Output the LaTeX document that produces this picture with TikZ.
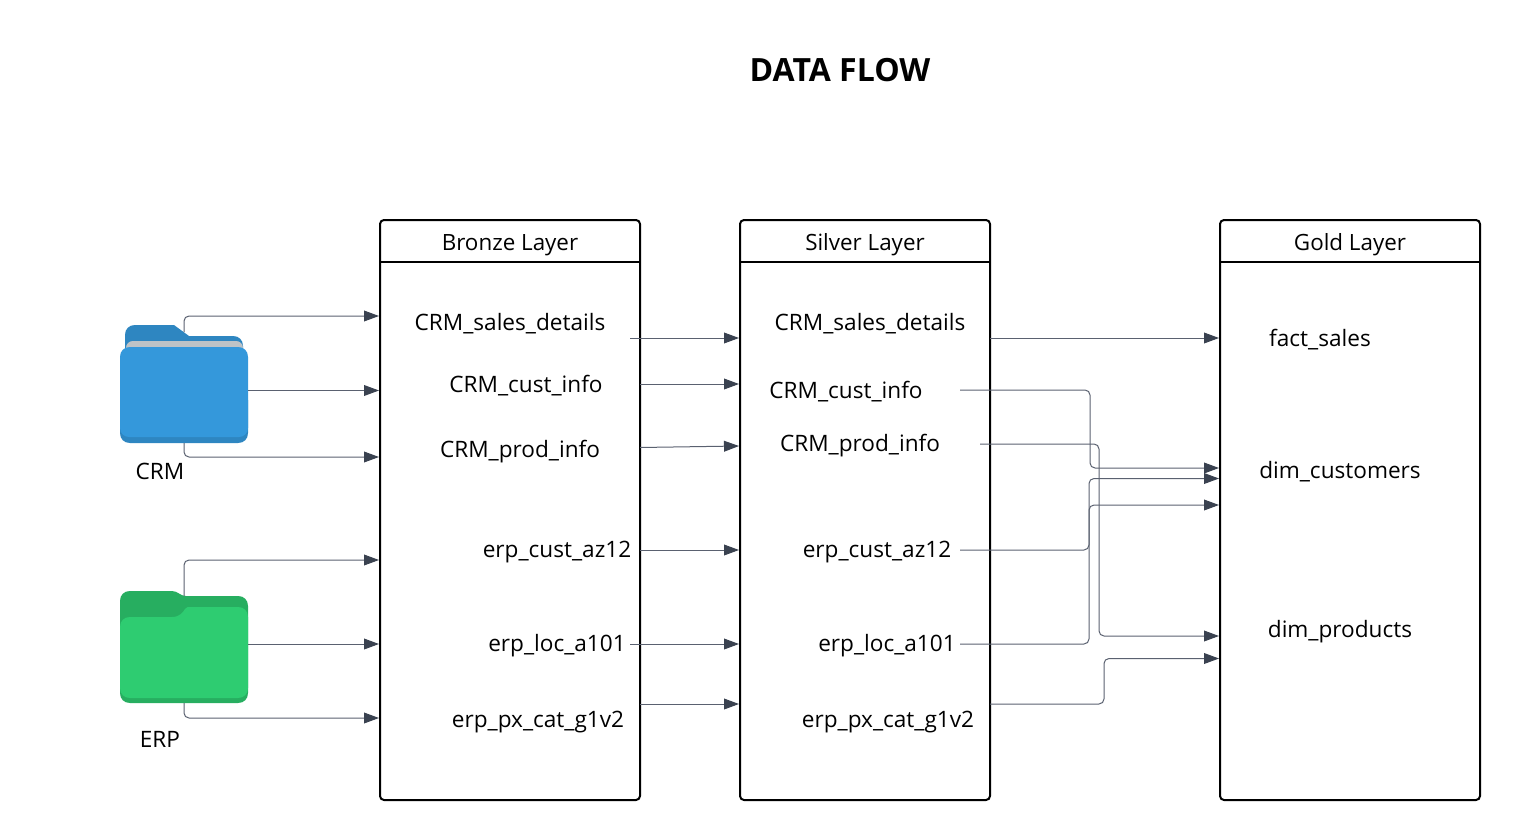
\documentclass[tikz,border=0pt]{standalone}
\usepackage{fontspec}
\setmainfont{Open Sans}
\usetikzlibrary{arrows.meta}
\definecolor{flowline}{HTML}{5A6170}
\definecolor{flowtip}{HTML}{3A4250}
\definecolor{crmback}{HTML}{2E86C1}
\definecolor{crmfront}{HTML}{3498DB}
\definecolor{crmpaper}{HTML}{BDC3C7}
\definecolor{erpback}{HTML}{27AE60}
\definecolor{erpfront}{HTML}{2ECC71}
\tikzset{
    layerbox/.style={draw=black, line width=1pt, rounded corners=2pt, minimum height=290pt, inner sep=0pt, outer sep=0pt},
    layertitle/.style={anchor=north, minimum height=21pt, inner sep=0pt, outer sep=0pt, text depth=0pt, yshift=-0.6pt, font=\fontsize{11.2}{13}\selectfont},
    tablename/.style={inner sep=0pt, yshift=-0.8pt, font=\fontsize{11.3}{13}\selectfont},
    flow/.style={draw=flowline, line width=0.5pt, rounded corners=2.5pt, -{Triangle[length=7.5pt,width=5.4pt,color=flowtip]}},
}

\begin{document}
\begin{tikzpicture}[x=0.5pt, y=-0.5pt]
        \useasboundingbox (0,0) rectangle (1520,840);

        % Titulo
        \node[inner sep=0pt, font=\fontsize{16}{18}\selectfont\bfseries] (title) at (840,70) {DATA FLOW};

        % Capas
        \node[layerbox, minimum width=130pt] (bronze) at (510,510) {};
        \node[layerbox, minimum width=125pt] (silver) at (865,510) {};
        \node[layerbox, minimum width=130pt] (gold) at (1350,510) {};
        \foreach \layer/\name in {bronze/Bronze Layer, silver/Silver Layer, gold/Gold Layer} {
            \node[layertitle] (\layer title) at (\layer.north) {\name};
            \draw[line width=1pt] (\layer.west |- 0,262) -- (\layer.east |- 0,262);
        }

        % Tablas
        \node[tablename] (bsales) at (510,322) {CRM\_sales\_details};
        \node[tablename] (bcust) at (526,384) {CRM\_cust\_info};
        \node[tablename] (bprod) at (520,450) {CRM\_prod\_info};
        \node[tablename] (baz) at (557,550) {erp\_cust\_az12};
        \node[tablename] (bloc) at (557,644) {erp\_loc\_a101};
        \node[tablename] (bcat) at (538,720) {erp\_px\_cat\_g1v2};
        \node[tablename] (ssales) at (870,322) {CRM\_sales\_details};
        \node[tablename] (scust) at (846,390) {CRM\_cust\_info};
        \node[tablename] (sprod) at (860,444) {CRM\_prod\_info};
        \node[tablename] (saz) at (877,550) {erp\_cust\_az12};
        \node[tablename] (sloc) at (887,644) {erp\_loc\_a101};
        \node[tablename] (scat) at (888,720) {erp\_px\_cat\_g1v2};
        \node[tablename] (gfact) at (1320,338) {fact\_sales};
        \node[tablename] (gcust) at (1340,470) {dim\_customers};
        \node[tablename] (gprod) at (1340,630) {dim\_products};

        % Carpeta CRM
        \fill[crmback] (125,352) -- (125,335) .. controls (125,329) and (129,325) .. (135,325) -- (174,325) -- (189,336) -- (233,336) .. controls (239,336) and (243,340) .. (243,346) -- (243,352) -- cycle;
        \fill[crmpaper] (126,352) -- (126,348) .. controls (126,344) and (129,341) .. (133,341) -- (236,341) .. controls (240,341) and (243,344) .. (243,348) -- (243,352) -- cycle;
        \fill[crmback] (120,400) -- (248,400) -- (248,433) .. controls (248,439) and (244,443) .. (238,443) -- (130,443) .. controls (124,443) and (120,439) .. (120,433) -- cycle;
        \fill[crmfront] (120,357) .. controls (120,351) and (124,347) .. (130,347) -- (238,347) .. controls (244,347) and (248,351) .. (248,357) -- (248,428) .. controls (248,433) and (244,437) .. (239,437) -- (129,437) .. controls (124,437) and (120,433) .. (120,428) -- cycle;
        \node[tablename] (crm) at (160,470) {CRM};

        % Carpeta ERP
        \fill[erpback] (120,601) .. controls (120,595) and (124,591) .. (130,591) -- (172,591) .. controls (178,591) and (180,596) .. (186,596) -- (238,596) .. controls (244,596) and (248,600) .. (248,606) -- (248,693) .. controls (248,699) and (244,703) .. (238,703) -- (130,703) .. controls (124,703) and (120,699) .. (120,693) -- cycle;
        \fill[erpfront] (120,627) .. controls (120,621) and (124,617) .. (130,617) -- (172,617) .. controls (180,617) and (183,612) .. (185,609) .. controls (186,607) and (188,607) .. (191,607) -- (238,607) .. controls (244,607) and (248,611) .. (248,617) -- (248,688) .. controls (248,694) and (244,698) .. (238,698) -- (130,698) .. controls (124,698) and (120,694) .. (120,688) -- cycle;
        \node[tablename] (erp) at (160,738) {ERP};

        % Puntos de conexion
        \foreach \n/\x/\y in {crmtop/184/332, crmmid/248/390.5, crmbot/184/443, erptop/184/596, erpmid/248/644, erpbot/184/703,
                b1/379/316, b2/379/390.5, b3/379/457, b4/379/560, b5/379/644, b6/379/718,
                bo1/630/338, bo2/640/384, bo3/640/447.5, bo4/640/550, bo5/630/644, bo6/640/704,
                s1/739/338, s2/739/384, s3/739/446, s4/739/550, s5/739/644, s6/739/704,
                so1/990/338, so2/960/390, so3/980/444, so4/960/550, so5/960/644, so6/990/704,
                g1/1219/338, g2/1219/468, g3/1219/636, g4/1219/478.5, g5/1219/505, g6/1219/658.5,
                busa/1090/0, busb/1099/0, busc/1089/0, busd/1104/0}
            \coordinate (\n) at (\x,\y);

        % Fuentes a Bronze
        \draw[flow] (crmtop) |- (b1);
        \draw[flow] (crmmid) -- (b2);
        \draw[flow] (crmbot) |- (b3);
        \draw[flow] (erptop) |- (b4);
        \draw[flow] (erpmid) -- (b5);
        \draw[flow] (erpbot) |- (b6);

        % Bronze a Silver
        \foreach \i in {1,...,6}
            \draw[flow] (bo\i) -- (s\i);

        % Silver a Gold
        \draw[flow] (so1) -- (g1);
        \draw[flow] (so2) -- (so2 -| busa) -- (g2 -| busa) -- (g2);
        \draw[flow] (so3) -- (so3 -| busb) -- (g3 -| busb) -- (g3);
        \draw[flow] (so4) -- (so4 -| busc) -- (g4 -| busc) -- (g4);
        \draw[flow] (so5) -- (so5 -| busc) -- (g5 -| busc) -- (g5);
        \draw[flow] (so6) -- (so6 -| busd) -- (g6 -| busd) -- (g6);
    \end{tikzpicture}
\end{document}
